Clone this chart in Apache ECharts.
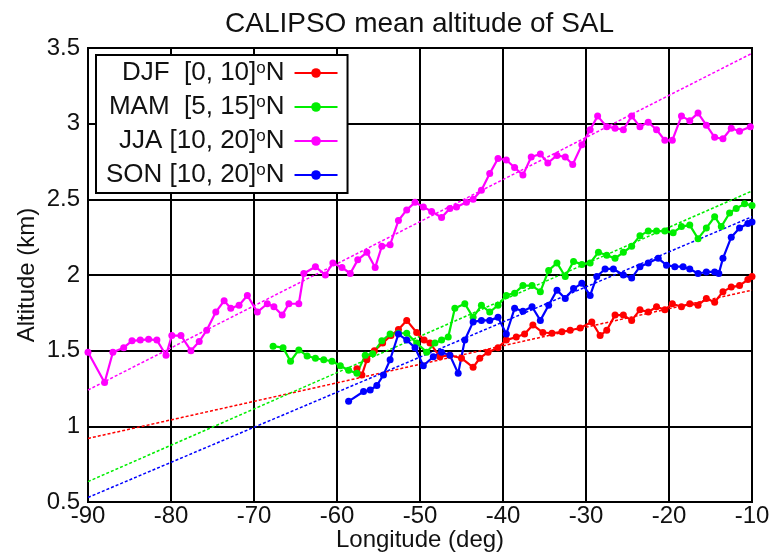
<!DOCTYPE html>
<html><head><meta charset="utf-8">
<script src="https://cdn.jsdelivr.net/npm/echarts@6/dist/echarts.min.js"></script>
<style>html,body{margin:0;padding:0;background:#fff}#c{width:775px;height:553px}</style>
</head><body><div id="c"></div>
<script>
// ---- data ----
const seriesNames = ['DJF  [0, 10]', 'MAM  [5, 15]', 'JJA [10, 20]', 'SON [10, 20]'];
const seriesColors = ['#ff0000', '#00ee00', '#ff00ff', '#0000ff'];

const djfLon = [-57.6,-57.0,-56.4,-55.5,-54.5,-53.5,-52.6,-51.6,-50.4,-49.5,-48.8,-47.6,-46.4,-45.0,-43.6,-42.8,-41.8,-40.6,-39.6,-38.4,-37.4,-36.4,-35.2,-34.1,-32.9,-31.9,-30.7,-29.3,-28.3,-27.5,-26.5,-25.5,-24.5,-23.5,-22.5,-21.5,-20.5,-19.6,-18.5,-17.5,-16.5,-15.5,-14.5,-13.5,-12.5,-11.5,-10.5,-10.0];
const djfAlt = [1.38,1.34,1.44,1.50,1.55,1.60,1.64,1.70,1.62,1.57,1.55,1.46,1.47,1.45,1.39,1.45,1.49,1.52,1.57,1.59,1.61,1.67,1.62,1.615,1.625,1.635,1.65,1.69,1.60,1.635,1.735,1.735,1.70,1.77,1.755,1.79,1.77,1.81,1.79,1.81,1.80,1.845,1.82,1.89,1.92,1.93,1.97,1.99];

const mamLon = [-67.7,-66.5,-65.6,-64.6,-63.6,-62.6,-61.6,-60.6,-59.6,-58.6,-57.6,-56.6,-55.7,-54.6,-53.6,-52.6,-51.6,-50.4,-49.2,-48.2,-47.4,-46.6,-45.8,-44.6,-43.6,-42.6,-41.6,-40.6,-39.6,-38.6,-37.6,-36.5,-35.5,-34.5,-33.5,-32.5,-31.5,-30.5,-29.5,-28.5,-27.5,-26.5,-25.5,-24.5,-23.5,-22.5,-21.5,-20.5,-19.5,-18.5,-17.5,-16.5,-15.5,-14.5,-13.7,-12.7,-11.9,-10.9,-10.0];
const mamAlt = [1.53,1.52,1.43,1.505,1.465,1.45,1.44,1.43,1.40,1.37,1.35,1.47,1.48,1.565,1.61,1.615,1.615,1.55,1.49,1.55,1.57,1.59,1.78,1.81,1.72,1.80,1.755,1.80,1.865,1.88,1.93,1.93,1.89,2.03,2.08,1.99,2.09,2.07,2.08,2.15,2.13,2.11,2.15,2.19,2.26,2.29,2.29,2.29,2.28,2.32,2.33,2.24,2.31,2.385,2.32,2.41,2.44,2.47,2.46];

const jjaLon = [-90.0,-88.0,-87.0,-85.7,-84.7,-83.7,-82.7,-81.7,-80.6,-79.9,-78.8,-77.6,-76.6,-75.7,-74.6,-73.6,-72.8,-71.8,-70.8,-69.6,-68.4,-67.6,-66.6,-65.8,-64.6,-64.0,-62.6,-61.4,-60.5,-59.4,-58.4,-57.5,-56.4,-55.4,-54.6,-53.6,-52.6,-51.6,-50.6,-49.6,-48.6,-47.4,-46.4,-45.6,-44.4,-43.6,-42.6,-41.6,-40.6,-39.6,-38.6,-37.6,-36.6,-35.5,-34.6,-33.5,-32.5,-31.6,-30.5,-29.5,-28.6,-27.5,-26.5,-25.5,-24.5,-23.5,-22.5,-21.5,-20.5,-19.6,-18.5,-17.5,-16.5,-15.5,-14.5,-13.5,-12.5,-11.5,-10.2];
const jjaAlt = [1.49,1.29,1.49,1.52,1.565,1.57,1.575,1.57,1.47,1.60,1.60,1.50,1.56,1.635,1.755,1.83,1.78,1.80,1.865,1.755,1.81,1.79,1.735,1.81,1.81,2.01,2.055,2.00,2.08,2.05,2.01,2.10,2.15,2.05,2.19,2.20,2.36,2.43,2.48,2.45,2.42,2.38,2.44,2.45,2.48,2.50,2.56,2.67,2.77,2.76,2.71,2.66,2.78,2.80,2.74,2.79,2.78,2.73,2.86,2.96,3.05,2.98,2.97,2.96,3.05,2.98,3.01,2.96,2.89,2.89,3.05,3.02,3.07,2.99,2.91,2.90,2.97,2.95,2.98];

const sonLon = [-58.6,-56.8,-56.0,-55.2,-54.4,-53.6,-52.6,-51.6,-50.6,-49.6,-48.4,-47.4,-46.4,-45.4,-44.6,-43.6,-42.6,-41.6,-40.6,-39.6,-38.6,-37.6,-36.5,-35.5,-34.5,-33.5,-32.5,-31.5,-30.5,-29.5,-28.7,-27.7,-26.7,-25.5,-24.5,-23.5,-22.5,-21.3,-20.3,-19.3,-18.3,-17.5,-16.5,-15.5,-14.5,-14.0,-13.5,-12.5,-11.5,-10.5,-10.0];
const sonAlt = [1.165,1.23,1.24,1.27,1.34,1.44,1.61,1.57,1.52,1.40,1.46,1.49,1.47,1.35,1.57,1.69,1.70,1.70,1.72,1.61,1.78,1.76,1.79,1.70,1.80,1.90,1.845,1.91,1.945,1.865,1.99,2.04,2.04,2.00,1.98,2.055,2.08,2.11,2.065,2.055,2.055,2.04,2.01,2.02,2.02,2.01,2.11,2.25,2.31,2.34,2.35];

// linear fit lines: end points at the x-axis limits
const fitLon = [-90, -10];
const djfFit = [0.92, 1.90];
const mamFit = [0.635, 2.555];
const jjaFit = [1.24, 3.465];
const sonFit = [0.53, 2.385];

const xTicks = {min: -90, max: -10, step: 10};
const yTicks = {min: 0.5, max: 3.5, step: 0.5};

// ---- chart ----
const FONT = '"Liberation Sans", Arial, sans-serif';
const zip = (a, b) => a.map((v, i) => [v, b[i]]);
const dataSets = [zip(djfLon, djfAlt), zip(mamLon, mamAlt), zip(jjaLon, jjaAlt), zip(sonLon, sonAlt)];
const fits = [djfFit, mamFit, jjaFit, sonFit];

const series = [];
seriesNames.forEach((n, i) => {
  series.push({
    name: n, type: 'line', data: dataSets[i],
    symbol: 'circle', symbolSize: 7, showSymbol: true,
    lineStyle: {width: 2.2, color: seriesColors[i]},
    itemStyle: {color: seriesColors[i]},
    z: 3
  });
});
fits.forEach((f, i) => {
  series.push({
    name: seriesNames[i] + ' fit', type: 'line', data: zip(fitLon, f),
    symbol: 'none', silent: true,
    lineStyle: {width: 1.5, color: seriesColors[i], type: [3, 2]},
    z: 2
  });
});

const chart = echarts.init(document.getElementById('c'), null, {renderer: 'canvas'});
chart.setOption({
  animation: false,
  backgroundColor: '#fff',
  title: {
    text: 'CALIPSO mean altitude of SAL',
    left: 225, top: 10, padding: 0,
    textStyle: {fontFamily: FONT, fontSize: 28, fontWeight: 'normal', color: '#111'}
  },
  grid: {left: 88, right: 23, top: 48, bottom: 51, outerBoundsMode: 'none', containLabel: false,
         show: true, borderColor: '#000', borderWidth: 2, backgroundColor: 'transparent'},
  legend: {
    orient: 'vertical', left: 96, top: 55, align: 'right',
    itemWidth: 43, itemHeight: 12, itemGap: 8,
    padding: [5, 9, 5, 10],
    backgroundColor: '#fff', borderColor: '#000', borderWidth: 2,
    data: seriesNames,
    formatter: n => '{t|' + n + '}{s|o}{t|N}{g|}',
    textStyle: {
      align: 'right',
      rich: {
        t: {fontSize: 26, fontFamily: FONT, color: '#111', lineHeight: 26},
        s: {fontSize: 17, fontFamily: FONT, color: '#111', verticalAlign: 'top', lineHeight: 4},
        g: {width: 5, lineHeight: 26}
      }
    }
  },
  xAxis: {
    type: 'value', min: xTicks.min, max: xTicks.max, interval: xTicks.step,
    name: 'Longitude (deg)', nameLocation: 'middle', nameGap: 26, nameMoveOverlap: false,
    nameTextStyle: {fontFamily: FONT, fontSize: 24, color: '#111'},
    axisLine: {show: true, lineStyle: {color: '#000', width: 2}},
    axisTick: {show: false},
    axisLabel: {fontFamily: FONT, fontSize: 24, color: '#111', margin: 2},
    splitLine: {show: true, lineStyle: {color: '#000', width: 2}}
  },
  yAxis: {
    type: 'value', min: yTicks.min, max: yTicks.max, interval: yTicks.step,
    name: 'Altitude (km)', nameLocation: 'middle', nameGap: 49, nameRotate: 90, nameMoveOverlap: false,
    nameTextStyle: {fontFamily: FONT, fontSize: 24, color: '#111'},
    axisLine: {show: true, lineStyle: {color: '#000', width: 2}},
    axisTick: {show: false},
    axisLabel: {fontFamily: FONT, fontSize: 24, color: '#111', margin: 8},
    splitLine: {show: true, lineStyle: {color: '#000', width: 2}}
  },
  series: series
});
</script>
</body></html>
